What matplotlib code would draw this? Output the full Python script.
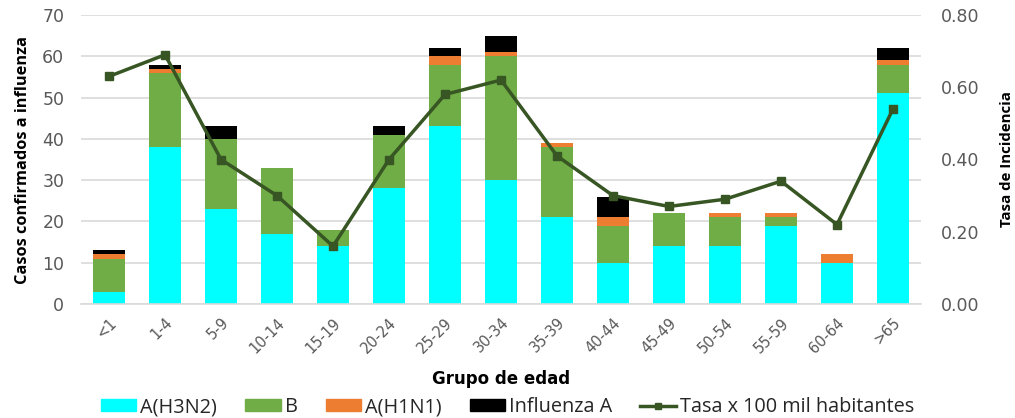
import matplotlib
matplotlib.use("Agg")
import matplotlib.pyplot as plt
import numpy as np
from matplotlib.lines import Line2D
from matplotlib.patches import Patch

categories = ["<1", "1-4", "5-9", "10-14", "15-19", "20-24", "25-29", "30-34",
              "35-39", "40-44", "45-49", "50-54", "55-59", "60-64", ">65"]
h3n2 = [3, 38, 23, 17, 14, 28, 43, 30, 21, 10, 14, 14, 19, 10, 51]
b = [8, 18, 17, 16, 4, 13, 15, 30, 17, 9, 8, 7, 2, 0, 7]
h1n1 = [1, 1, 0, 0, 0, 0, 2, 1, 1, 2, 0, 1, 1, 2, 1]
flu_a = [1, 1, 3, 0, 0, 2, 2, 4, 0, 5, 0, 0, 0, 0, 3]
tasa = [0.63, 0.69, 0.40, 0.30, 0.16, 0.40, 0.58, 0.62, 0.41, 0.30, 0.27, 0.29, 0.34, 0.22, 0.54]

series_names = ["A(H3N2)", "B", "A(H1N1)", "Influenza A"]
colors = ["#00FFFF", "#70AD47", "#ED7D31", "#000000"]
line_color = "#375623"
tick_color = "#595959"
font = "Open Sans"

plt.rcParams['font.family'] = [font, 'DejaVu Sans']

fig = plt.figure(figsize=(10.15, 4.18), dpi=100)
ax = fig.add_axes([81/1015, 1 - 304/418, (921-81)/1015, (304-15)/418])
x = np.arange(len(categories))
width = 0.58
bottom = np.zeros(len(categories))
for vals, col in zip([h3n2, b, h1n1, flu_a], colors):
    ax.bar(x, vals, width, bottom=bottom, color=col, zorder=2)
    bottom += np.array(vals)

ax.set_ylim(0, 70)
ax.set_xlim(-0.5, len(categories) - 0.5)
ax.set_yticks(range(0, 71, 10))
ax.yaxis.grid(True, color="#D9D9D9", linewidth=1.2, zorder=0)
ax.set_axisbelow(True)
for s in ["top", "right", "left"]:
    ax.spines[s].set_visible(False)
ax.spines["bottom"].set_color("#D9D9D9")
ax.spines["bottom"].set_linewidth(1.2)
ax.tick_params(axis="both", length=0, colors=tick_color, labelfontfamily="DejaVu Sans")
ax.tick_params(axis="y", pad=12, labelsize=12.5)
ax.set_xticks(x)
ax.set_xticklabels(categories, rotation=45, ha="right", rotation_mode="anchor")
ax.tick_params(axis="x", pad=8, labelsize=10.5)
ax.set_ylabel("Casos confirmados a influenza", fontsize=11.8, fontweight="bold", color="black", labelpad=8)
ax.set_xlabel("Grupo de edad", fontsize=12, fontweight="bold", color="black", labelpad=10,
              fontfamily="DejaVu Sans")

ax2 = ax.twinx()
ax2.plot(x, tasa, color=line_color, linewidth=2.5, marker="s", markersize=6, zorder=3)
ax2.set_ylim(0, 0.8)
ax2.set_yticks(np.arange(0, 0.81, 0.2))
ax2.set_yticklabels([f"{v:.2f}" for v in np.arange(0, 0.81, 0.2)])
for s in ["top", "right", "left", "bottom"]:
    ax2.spines[s].set_visible(False)
ax2.tick_params(axis="y", length=0, colors=tick_color, labelsize=12.5, pad=14,
                labelfontfamily="DejaVu Sans")
ax2.set_ylabel("Tasa de Incidencia", fontsize=10.8, fontweight="bold", color="black", labelpad=15)

handles = [Patch(color=c, label=n) for c, n in zip(colors, series_names)]
handles.append(Line2D([0], [0], color=line_color, linewidth=2.5, marker="s", markersize=5,
                      label="Tasa x 100 mil habitantes"))
leg = fig.legend(handles=handles, loc="center", ncol=5,
                 frameon=False, fontsize=14.3, handlelength=1.8, handleheight=0.5, columnspacing=1.4,
                 handletextpad=0.2)
for t in leg.get_texts():
    t.set_color("#262626")
leg.set_bbox_to_anchor((0.5, 1 - 407/418), transform=fig.transFigure)
fig.savefig("out.png", dpi=100)
